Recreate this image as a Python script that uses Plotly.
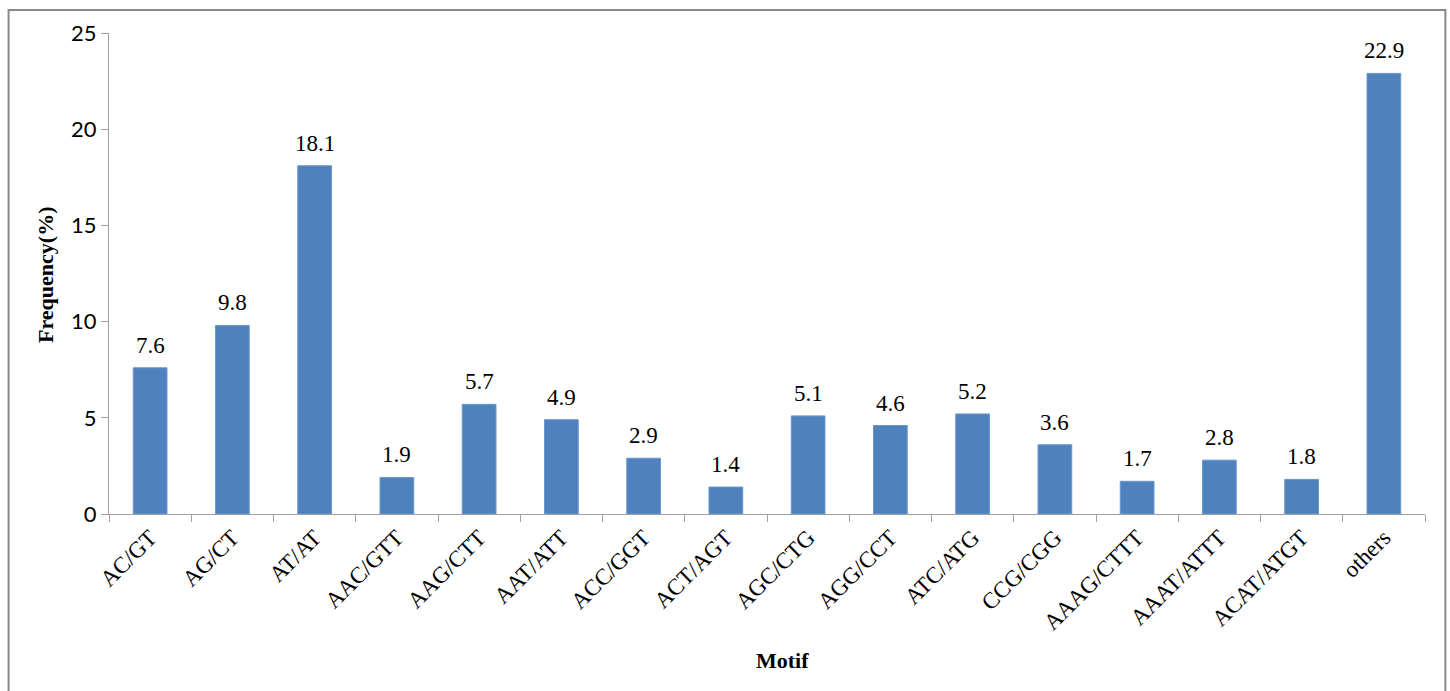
import plotly.graph_objects as go

motifs = ["AC/GT", "AG/CT", "AT/AT", "AAC/GTT", "AAG/CTT", "AAT/ATT", "ACC/GGT",
          "ACT/AGT", "AGC/CTG", "AGG/CCT", "ATC/ATG", "CCG/CGG", "AAAG/CTTT",
          "AAAT/ATTT", "ACAT/ATGT", "others"]
frequency = [7.6, 9.8, 18.1, 1.9, 5.7, 4.9, 2.9, 1.4, 5.1, 4.6, 5.2, 3.6, 1.7, 2.8, 1.8, 22.9]
y_ticks = [0, 5, 10, 15, 20, 25]

serif = "Liberation Serif, Times New Roman, serif"

fig = go.Figure()
fig.add_trace(go.Bar(
    x=motifs, y=frequency,
    marker=dict(color="#4F81BD", line=dict(color="#6A97CD", width=1)),
    width=0.41,
    cliponaxis=False,
))

label_annotations = [
    dict(x=m, y=v, xref="x", yref="y", text=f"{v:.1f}", showarrow=False,
         xanchor="center", yanchor="bottom", yshift=8,
         font=dict(family=serif, size=23, color="#000000"))
    for m, v in zip(motifs, frequency)
]

fig.update_layout(
    width=1450, height=691,
    margin=dict(l=109, r=25, t=33, b=177),
    paper_bgcolor="white", plot_bgcolor="white",
    showlegend=False,
    xaxis=dict(
        type="category", automargin=False,
        showline=True, linecolor="#A0A0A0", linewidth=1,
        ticks="outside", tickson="boundaries", ticklen=7, tickcolor="#A0A0A0",
        tickangle=-45,
        tickfont=dict(family=serif, size=23, color="#000000"),
        showgrid=False,
    ),
    yaxis=dict(
        range=[0, 25], tickvals=y_ticks, automargin=False,
        showline=True, linecolor="#A0A0A0", linewidth=1,
        ticks="outside", ticklen=7, tickcolor="#A0A0A0",
        tickfont=dict(family="Lato, Open Sans, sans-serif", size=22, color="#000000"),
        showgrid=False, zeroline=False,
    ),
    bargap=0.59,
    shapes=[dict(type="rect", xref="paper", yref="paper",
                 x0=-0.0763, x1=1.0155, y0=-0.37, y1=1.0478,
                 line=dict(color="#888888", width=2), fillcolor="rgba(0,0,0,0)",
                 layer="below")],
    annotations=label_annotations + [
        dict(text="<b>Frequency(%)</b>", xref="paper", yref="paper",
             x=(45 - 109) / 1316, y=(514 - 275) / 481, textangle=-90,
             showarrow=False, xanchor="center", yanchor="middle",
             font=dict(family=serif, size=22, color="#000000")),
        dict(text="<b>Motif</b>", xref="paper", yref="paper",
             x=(782 - 109) / 1316, y=(514 - 660) / 481,
             showarrow=False, xanchor="center", yanchor="middle",
             font=dict(family=serif, size=22, color="#000000")),
    ],
)

fig.write_html("out.html")
